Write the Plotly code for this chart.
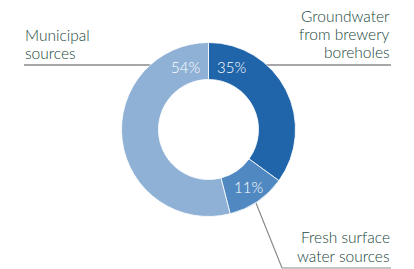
import plotly.graph_objects as go

labels = ["Groundwater from brewery boreholes", "Fresh surface water sources", "Municipal sources"]
values = [35, 11, 54]
colors = ["#2064a9", "#5089c1", "#8fb1d6"]
label_lines = [["Groundwater", "from brewery", "boreholes"],
               ["Fresh surface", "water sources"],
               ["Municipal", "sources"]]

W, H = 414, 269
OFF = 8  # page body margin offset
cx, cy, R = 208.5, 129.5, 87.0

fig = go.Figure()

def px(x):
    return (x - OFF) / W

def py(y):
    return 1 - (y - OFF) / H

line_col = "#8a8a8a"
fig.add_shape(type="line", xref="paper", yref="paper", x0=px(24), y0=py(65), x1=px(200), y1=py(65),
              line=dict(color=line_col, width=1.5), layer="below")
fig.add_shape(type="line", xref="paper", yref="paper", x0=px(220), y0=py(65), x1=px(391), y1=py(65),
              line=dict(color=line_col, width=1.5), layer="below")
fig.add_shape(type="path", xref="paper", yref="paper",
              path=f"M {px(256)} {py(203)} L {px(282)} {py(268)} L {px(391)} {py(268)}",
              line=dict(color=line_col, width=1.2), layer="below")

fig.add_trace(go.Pie(
    labels=labels, values=values, sort=False, direction="clockwise", rotation=0,
    hole=0.575,
    marker=dict(colors=colors, line=dict(color="white", width=0.8)),
    textinfo="none", hoverinfo="label+percent",
    domain=dict(x=[px(cx - R), px(cx + R)], y=[py(cy + R), py(cy - R)]),
    showlegend=False,
))

font_pct = dict(family="Lato, Open Sans, sans-serif", size=15, color="white", weight=300)
pct_pos = [(232, 67), (248, 187), (185, 67)]
for v, (x, y) in zip(values, pct_pos):
    fig.add_annotation(x=px(x), y=py(y), xref="paper", yref="paper", text=f"{v}%",
                       showarrow=False, font=font_pct, xanchor="center", yanchor="middle")

font_lbl = dict(family="Lato, Open Sans, sans-serif", size=15.5, color="#17463a", weight=300)
blocks = [(392, "right", [16, 33.5, 51.5]),
          (392, "right", [237, 255.5]),
          (23, "left", [34.5, 52.5])]
for lines, (x, anchor, ys) in zip(label_lines, blocks):
    for t, y in zip(lines, ys):
        fig.add_annotation(x=px(x), y=py(y), xref="paper", yref="paper", text=t,
                           showarrow=False, font=font_lbl, xanchor=anchor, yanchor="middle")

fig.update_layout(width=W, height=H, margin=dict(l=0, r=0, t=0, b=0),
                  paper_bgcolor="white", plot_bgcolor="white")
fig.write_html("out.html")
